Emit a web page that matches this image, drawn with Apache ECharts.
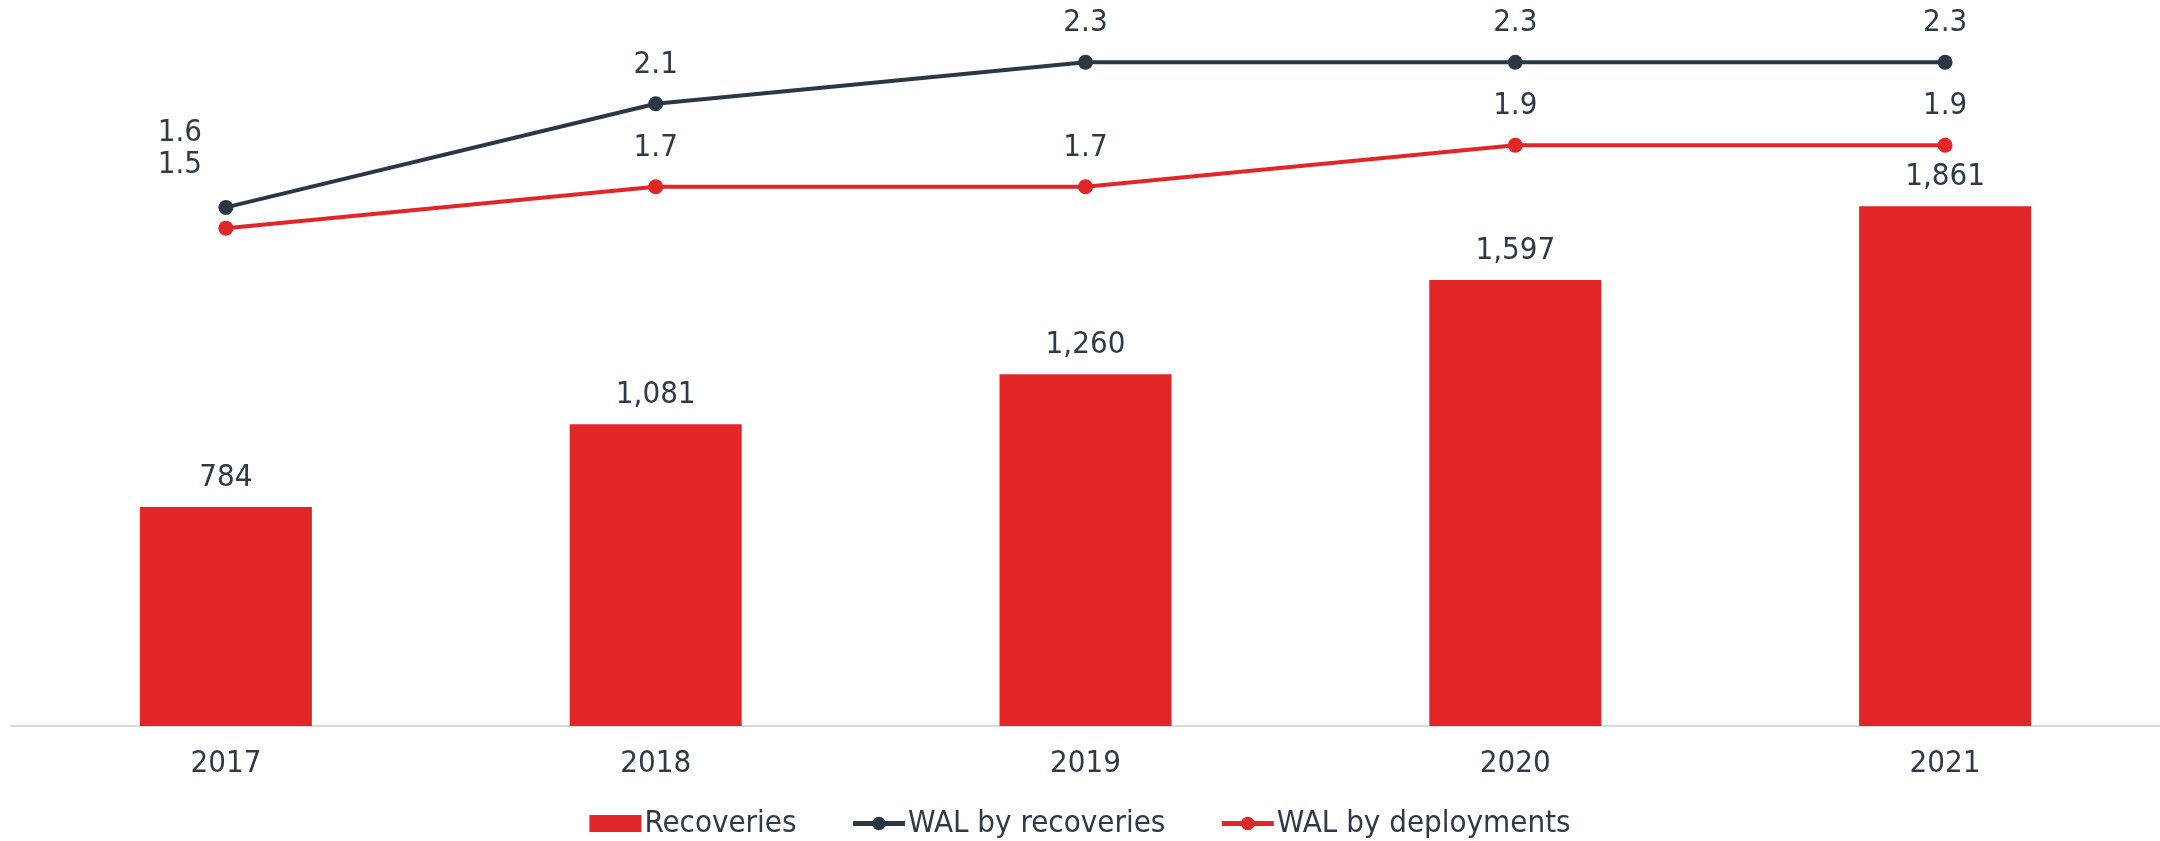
<!DOCTYPE html>
<html>
<head>
<meta charset="utf-8">
<title>Recoveries and WAL</title>
<script src="https://cdn.jsdelivr.net/npm/echarts@6/dist/echarts.min.js"></script>
<style>
  html, body { margin: 0; padding: 0; background: #fff; }
  #chart { width: 2160px; height: 841px; }
</style>
</head>
<body>
<div id="chart"></div>
<script>
// data
var years = ['2017', '2018', '2019', '2020', '2021'];
var recoveries = [784, 1081, 1260, 1597, 1861];
var walRecoveries = [1.6, 2.1, 2.3, 2.3, 2.3];
var walDeployments = [1.5, 1.7, 1.7, 1.9, 1.9];

var RED = '#e22526';
var DARK = '#2b3744';
var TEXT = '#2e3a47';
var FONT = '"DejaVu Sans Condensed", "DejaVu Sans", sans-serif';
var FS = 31;

// 2017 labels sit up-left of the points in the original
function lineData (arr, firstOffset) {
  return arr.map(function (v, i) {
    if (i === 0) {
      return { value: v, label: { offset: firstOffset } };
    }
    return v;
  });
}

var chart = echarts.init(document.getElementById('chart'));

var option = {
  animation: false,
  textStyle: { fontFamily: FONT },
  grid: { left: 11, right: 0, top: 0, bottom: 115 },
  legend: {
    bottom: -3,
    left: 'center',
    itemWidth: 52,
    itemHeight: 17,
    itemGap: 54,
    textStyle: { color: TEXT, fontSize: FS, fontFamily: FONT, padding: [0, 0, 0, -2] },
    data: [
      { name: 'Recoveries', icon: 'rect' },
      { name: 'WAL by recoveries', lineStyle: { width: 5 } },
      { name: 'WAL by deployments', lineStyle: { width: 5 } }
    ]
  },
  xAxis: {
    type: 'category',
    data: years,
    axisLine: { lineStyle: { color: '#d9d9d9', width: 2 } },
    axisTick: { show: false },
    axisLabel: { color: TEXT, fontSize: FS, fontFamily: FONT, margin: 22 }
  },
  yAxis: [
    { type: 'value', min: 0, max: 2600, show: false, splitLine: { show: false } },
    { type: 'value', min: -0.9, max: 2.6, show: false, splitLine: { show: false } }
  ],
  series: [
    {
      name: 'Recoveries',
      type: 'bar',
      yAxisIndex: 0,
      barWidth: 172,
      itemStyle: { color: RED },
      label: {
        show: true,
        position: 'top',
        distance: 14,
        color: TEXT,
        fontSize: FS,
        fontFamily: FONT,
        formatter: function (p) { return p.value.toLocaleString('en-US'); }
      },
      data: recoveries
    },
    {
      name: 'WAL by recoveries',
      type: 'line',
      yAxisIndex: 1,
      symbol: 'circle',
      symbolSize: 15,
      lineStyle: { color: DARK, width: 4 },
      itemStyle: { color: DARK },
      label: {
        show: true,
        position: 'top',
        distance: 16,
        color: TEXT,
        fontSize: FS,
        fontFamily: FONT,
        formatter: function (p) { return p.value.toFixed(1); }
      },
      data: lineData(walRecoveries, [-46, -35])
    },
    {
      name: 'WAL by deployments',
      type: 'line',
      yAxisIndex: 1,
      symbol: 'circle',
      symbolSize: 15,
      lineStyle: { color: RED, width: 4 },
      itemStyle: { color: RED },
      label: {
        show: true,
        position: 'top',
        distance: 16,
        color: TEXT,
        fontSize: FS,
        fontFamily: FONT,
        formatter: function (p) { return p.value.toFixed(1); }
      },
      data: lineData(walDeployments, [-46, -24])
    }
  ]
};

chart.setOption(option);
</script>
</body>
</html>
